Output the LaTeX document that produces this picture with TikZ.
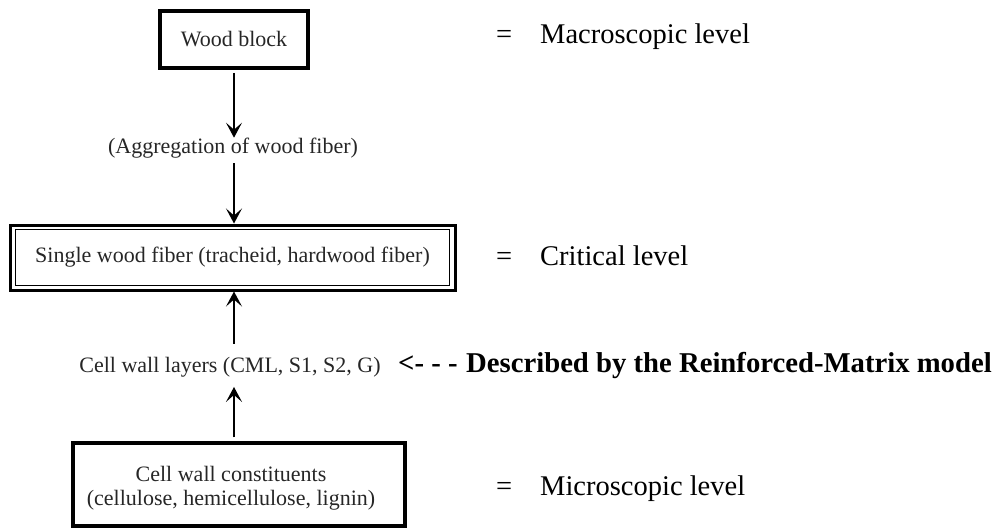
\documentclass[tikz,border=0pt]{standalone}
\usepackage{fontspec}
\setmainfont{Liberation Serif}
\usetikzlibrary{arrows.meta}
\begin{document}
\begin{tikzpicture}[x=1pt,y=-1pt,
  lab/.style={font=\fontsize{22}{24}\selectfont, text=black!85, inner sep=0pt},
  lvl/.style={font=\fontsize{28.5}{32}\selectfont, text=black, inner sep=0pt, anchor=base west},
  boldlab/.style={lvl, font=\bfseries\fontsize{28.7}{32}\selectfont},
  boxa/.style={draw, line width=3.5pt, inner sep=0pt},
  arr/.style={-{Stealth[length=15pt,width=16pt,inset=7pt]}, line width=1.3pt},
]
\useasboundingbox (0,0) rectangle (996,528);

% left column
\node[boxa, lab, minimum width=148pt, minimum height=57pt] (wood) at (234,39.5) {Wood block};
\node[lab] (agg) at (233,148) {(Aggregation of wood fiber)};
\node[boxa, lab, line width=3pt, minimum width=445pt, minimum height=65pt] (fiber) at (232.5,257.5) {Single wood fiber (tracheid, hardwood fiber)};
\draw[line width=1.5pt] ([shift={(7,6)}]fiber.north west) rectangle ([shift={(-7,-6)}]fiber.south east);
\node[lab, anchor=base] (cwl) at (230,372) {Cell wall layers (CML, S1, S2, G)};
\node[boxa, minimum width=332pt, minimum height=83pt] (cons) at (239,484.5) {};
\node[lab, align=center] (consT) at (231,488) {Cell wall constituents\\(cellulose, hemicellulose, lignin)};

% pointer and model label
\node[boldlab] (dash) at (398,372) {<- - -};
\node[boldlab] (desc) at (466,372) {Described by the Reinforced-Matrix model};

% level labels
\node[lvl] (eq1) at (496,43) {=};
\node[lvl] (macro) at (540,43) {Macroscopic level};
\node[lvl] (eq2) at (496,265) {=};
\node[lvl] (crit) at (540,265) {Critical level};
\node[lvl] (eq3) at (496,495) {=};
\node[lvl] (micro) at (540,495) {Microscopic level};

% arrows
\draw[arr, shorten <=3pt] (wood.south) -- (agg.north -| wood.south);
\draw[arr, shorten <=5pt] (agg.south -| wood.south) -- (fiber.north -| wood.south);
\draw[arr, shorten <=13pt] (cwl.north -| wood.south) -- (fiber.south -| wood.south);
\draw[arr, shorten <=4pt, shorten >=10pt] (cons.north -| wood.south) -- (cwl.south -| wood.south);
\end{tikzpicture}
\end{document}
